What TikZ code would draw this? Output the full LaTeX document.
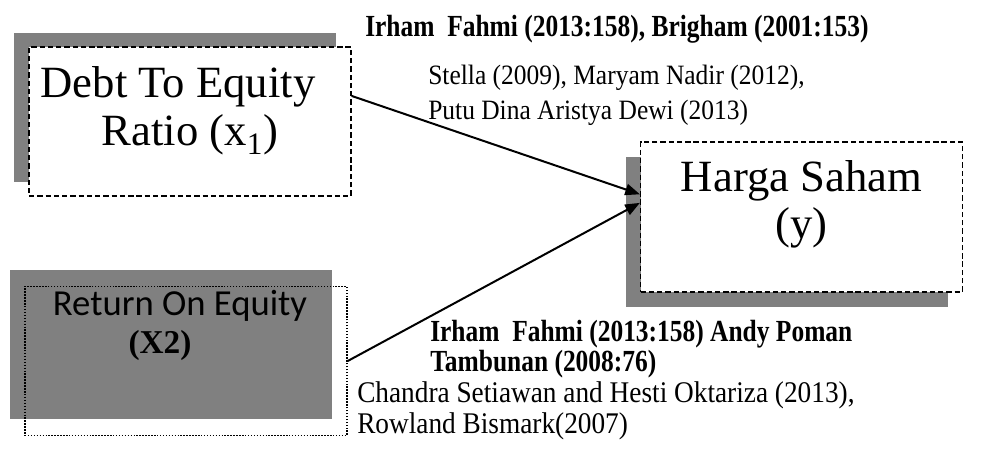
\documentclass[tikz,border=0pt]{standalone}
\usepackage{fontspec}
\setmainfont{Liberation Serif}
\newfontfamily\calfont{Carlito}
\newfontfamily\citefont{Liberation Serif}[FakeStretch=0.91]
\newfontfamily\citefontb{Liberation Serif}[FakeStretch=0.83]
\usepackage{tikz}
\usetikzlibrary{shadows,arrows.meta,calc}
\definecolor{shade}{HTML}{808080}

\begin{document}
\begin{tikzpicture}[
  x=0.75pt, y=-0.75pt,
  varbox/.style={draw, line width=0.9pt, minimum width=241.5pt, minimum height=111.75pt, inner sep=0pt},
  dashbox/.style={varbox, dash pattern=on 4pt off 2.2pt, fill=white},
  dotbox/.style={varbox, line width=1.1pt, dash pattern=on 1.1pt off 1.1pt},
  boxtxt/.style={font=\fontsize{33.5}{38}\selectfont, anchor=base, inner sep=0pt},
  cite/.style={font=\citefont\fontsize{21}{26}\selectfont, anchor=base west, inner sep=0pt},
  citeb/.style={cite, font=\citefontb\bfseries\fontsize{23}{27}\selectfont},
  arr/.style={-{Triangle[length=11pt,width=8.5pt]}, line width=1.5pt}
]
\useasboundingbox (0,0) rectangle (1004,452);

% variables
\node[dashbox, drop shadow={shadow xshift=-11.25pt, shadow yshift=10.5pt, fill=shade, opacity=1}] (der) at (190,121.5) {};
\node[dotbox, drop shadow={shadow xshift=-11.25pt, shadow yshift=12pt, fill=shade, opacity=1}] (roe) at (186,361) {};
\node[dashbox, minimum height=112.5pt, drop shadow={shadow xshift=-11.25pt, shadow yshift=-11.25pt, fill=shade, opacity=1}] (hs) at (801.5,217) {};

\node[boxtxt] (der1) at ($(der.north)+(-12,51)$) {Debt To Equity};
\node[boxtxt] (der2) at ($(der.north)+(0,99)$) {Ratio (x\textsubscript{1})};
\node[boxtxt, font=\calfont\fontsize{27.5}{32}\selectfont, anchor=center] (roe1) at ($(roe.north)+(-6,20)$) {Return On Equity};
\node[boxtxt, font=\bfseries\fontsize{25}{30}\selectfont, anchor=center] (roe2) at ($(roe.north)+(-26,60)$) {(X2)};
\node[boxtxt] (hs1) at ($(hs.north)+(0,50)$) {Harga Saham};
\node[boxtxt] (hs2) at ($(hs.north)+(0,97)$) {(y)};

% references
\node[citeb] (ref1) at (365,37) {Irham\ \ Fahmi (2013:158), Brigham (2001:153)};
\node[cite] (ref2) at (428,85) {Stella (2009), Maryam Nadir (2012),};
\node[cite] (ref3) at (428,120) {Putu Dina Aristya Dewi (2013)};
\node[citeb] (ref4) at (430,342) {Irham\ \ Fahmi (2013:158) Andy Poman};
\node[citeb] (ref5) at (430,372) {Tambunan (2008:76)};
\node[cite, font=\citefont\fontsize{22.5}{28}\selectfont] (ref6) at (357,403) {Chandra Setiawan and Hesti Oktariza (2013),};
\node[cite, font=\citefont\fontsize{22.5}{28}\selectfont] (ref7) at (357,434) {Rowland Bismark(2007)};

% connectors
\draw[arr] (der.9) -- (hs.172);
\draw[arr] (roe.east) -- (hs.175);
\end{tikzpicture}
\end{document}
